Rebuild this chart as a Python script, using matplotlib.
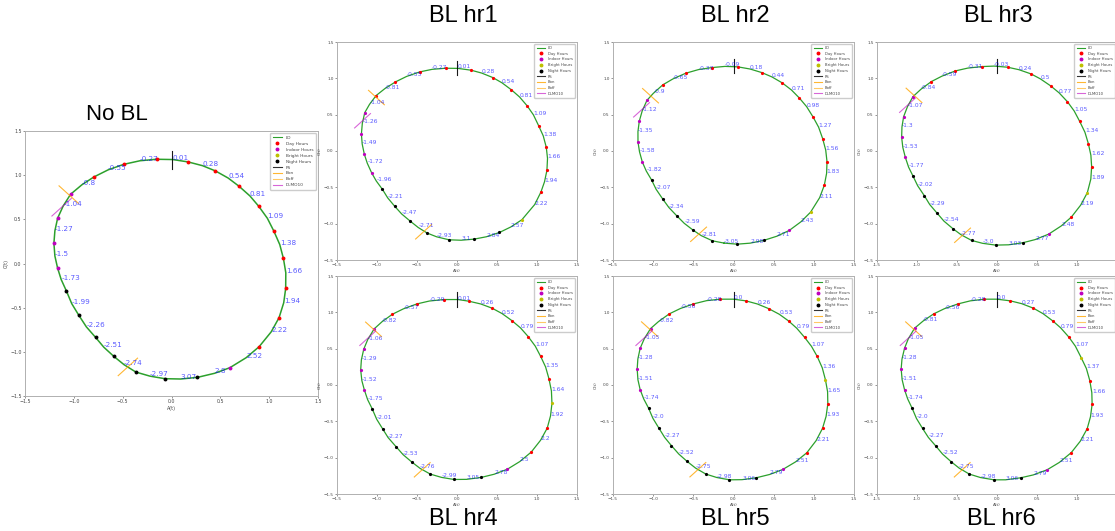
import numpy as np
import matplotlib.pyplot as plt
from matplotlib.lines import Line2D

# hourly samples on the limit cycle: A(t), C(t), starting just left of the top
nobl_A = [-0.153, 0.170, 0.450, 0.692, 0.893, 1.047, 1.146, 1.169, 1.101, 0.897, 0.597, 0.266,
          -0.068, -0.365, -0.590, -0.777, -0.948, -1.077, -1.166, -1.204, -1.166, -1.033, -0.794, -0.488]
nobl_C = [1.180, 1.150, 1.048, 0.874, 0.648, 0.369, 0.057, -0.283, -0.614, -0.942, -1.180, -1.289,
          -1.304, -1.229, -1.052, -0.837, -0.588, -0.309, -0.053, 0.230, 0.513, 0.784, 0.980, 1.123]
nobl_kind = "DDDDDDDDDDINNNNNNNIIIIDD"
nobl_phase = [0.01, 0.28, 0.54, 0.81, 1.09, 1.38, 1.66, 1.94, 2.22, 2.52, 2.8, 3.07,
              -2.97, -2.74, -2.51, -2.26, -1.99, -1.73, -1.5, -1.27, -1.04, -0.8, -0.55, -0.27]
nobl_radius = [1.177, 1.152, 1.128, 1.109, 1.107, 1.129, 1.175, 1.232, 1.281, 1.312, 1.319, 1.311,
               1.294, 1.244, 1.174, 1.129, 1.118, 1.144, 1.197, 1.250, 1.286, 1.279, 1.243, 1.207]
nobl_marks = {"PS": (0.0, 1.175), "Bon": (-0.933, 1.310), "Boff": (-2.777, 1.253), "DLMO10": (-1.056, 1.293)}

hr1_A = [-0.142, 0.176, 0.447, 0.681, 0.878, 1.020, 1.116, 1.124, 1.049, 0.811, 0.531, 0.213,
         -0.100, -0.372, -0.585, -0.777, -0.932, -1.066, -1.158, -1.195, -1.153, -1.011, -0.769, -0.464]
hr1_C = [1.139, 1.112, 1.011, 0.841, 0.620, 0.349, 0.051, -0.266, -0.565, -0.946, -1.121, -1.213,
         -1.222, -1.130, -0.965, -0.763, -0.528, -0.303, -0.046, 0.234, 0.528, 0.763, 0.951, 1.089]
hr1_kind = "DDDDDDDDDBNNNNNNNIIIIDDD"
hr1_phase = [0.01, 0.28, 0.54, 0.81, 1.09, 1.38, 1.66, 1.94, 2.22, 2.57, 2.84, 3.1,
             -2.93, -2.71, -2.47, -2.21, -1.96, -1.72, -1.49, -1.26, -1.04, -0.81, -0.55, -0.27]
hr1_radius = [1.137, 1.116, 1.094, 1.079, 1.077, 1.098, 1.136, 1.173, 1.219, 1.243, 1.236, 1.229,
              1.208, 1.159, 1.109, 1.080, 1.090, 1.134, 1.189, 1.243, 1.268, 1.245, 1.204, 1.166]
hr1_marks = {"PS": (0.0, 1.139), "Bon": (-0.940, 1.247), "Boff": (-2.782, 1.188), "DLMO10": (-1.232, 1.252)}

hr2_A = [-0.270, 0.054, 0.353, 0.607, 0.819, 0.990, 1.110, 1.164, 1.131, 0.960, 0.694, 0.374,
         0.046, -0.262, -0.503, -0.707, -0.881, -1.019, -1.135, -1.189, -1.173, -1.077, -0.881, -0.595]
hr2_C = [1.148, 1.158, 1.079, 0.937, 0.730, 0.469, 0.170, -0.147, -0.469, -0.841, -1.093, -1.231,
         -1.282, -1.236, -1.089, -0.891, -0.661, -0.400, -0.152, 0.124, 0.409, 0.698, 0.910, 1.070]
hr2_kind = "DDDDDDDDDBINNNNNNNIIIIDD"
hr2_phase = [-0.09, 0.18, 0.44, 0.71, 0.98, 1.27, 1.56, 1.83, 2.11, 2.43, 2.71, 2.98,
             -3.05, -2.81, -2.59, -2.34, -2.07, -1.82, -1.58, -1.35, -1.12, -0.9, -0.65, -0.37]
hr2_radius = [1.169, 1.147, 1.126, 1.107, 1.096, 1.109, 1.148, 1.199, 1.250, 1.286, 1.291, 1.285,
              1.273, 1.232, 1.169, 1.119, 1.098, 1.120, 1.170, 1.219, 1.263, 1.275, 1.246, 1.202]
hr2_marks = {"PS": (0.0, 1.167), "Bon": (-0.936, 1.283), "Boff": (-2.779, 1.226), "DLMO10": (-1.111, 1.277)}

hr3_A = [-0.188, 0.133, 0.425, 0.671, 0.879, 1.033, 1.142, 1.183, 1.129, 0.929, 0.646, 0.321,
         -0.017, -0.317, -0.550, -0.746, -0.908, -1.050, -1.146, -1.192, -1.167, -1.050, -0.821, -0.521]
hr3_C = [1.162, 1.153, 1.061, 0.896, 0.680, 0.409, 0.101, -0.216, -0.574, -0.910, -1.144, -1.263,
         -1.295, -1.231, -1.070, -0.859, -0.616, -0.345, -0.087, 0.188, 0.473, 0.749, 0.955, 1.102]
hr3_kind = "DDDDDDDDBDINNNNNNNIIIIDD"
hr3_phase = [-0.03, 0.24, 0.5, 0.77, 1.05, 1.34, 1.62, 1.89, 2.19, 2.48, 2.77, 3.03,
             -3.0, -2.77, -2.54, -2.29, -2.02, -1.77, -1.53, -1.3, -1.07, -0.84, -0.59, -0.31]
hr3_radius = [1.169, 1.152, 1.131, 1.115, 1.111, 1.129, 1.175, 1.235, 1.284, 1.307, 1.309, 1.299,
              1.283, 1.237, 1.171, 1.118, 1.101, 1.127, 1.178, 1.233, 1.275, 1.275, 1.239, 1.198]
hr3_marks = {"PS": (0.0, 1.169), "Bon": (-0.935, 1.289), "Boff": (-2.786, 1.237), "DLMO10": (-1.058, 1.284)}

hr4_A = [-0.167, 0.150, 0.439, 0.685, 0.890, 1.045, 1.149, 1.187, 1.128, 0.928, 0.631, 0.301,
         -0.038, -0.334, -0.564, -0.761, -0.928, -1.061, -1.158, -1.204, -1.166, -1.036, -0.807, -0.501]
hr4_C = [1.176, 1.153, 1.057, 0.887, 0.666, 0.395, 0.087, -0.253, -0.593, -0.923, -1.158, -1.272,
         -1.300, -1.226, -1.061, -0.850, -0.606, -0.326, -0.069, 0.207, 0.492, 0.772, 0.974, 1.116]
hr4_kind = "DDDDDDDBDDINNNNNNNIIIIDD"
hr4_phase = [0.01, 0.26, 0.52, 0.79, 1.07, 1.35, 1.64, 1.92, 2.2, 2.5, 2.78, 3.05,
             -2.99, -2.76, -2.53, -2.27, -2.01, -1.75, -1.52, -1.29, -1.06, -0.82, -0.57, -0.29]
hr4_radius = [1.176, 1.154, 1.133, 1.117, 1.115, 1.135, 1.183, 1.244, 1.292, 1.314, 1.313, 1.304,
              1.286, 1.237, 1.172, 1.125, 1.109, 1.135, 1.191, 1.244, 1.279, 1.279, 1.244, 1.206]
hr4_marks = {"PS": (0.0, 1.178), "Bon": (-0.937, 1.295), "Boff": (-2.785, 1.245), "DLMO10": (-1.048, 1.288)}

hr5_A = [-0.166, 0.154, 0.436, 0.685, 0.884, 1.041, 1.145, 1.174, 1.108, 0.913, 0.614, 0.282,
         -0.050, -0.344, -0.577, -0.772, -0.929, -1.058, -1.162, -1.199, -1.162, -1.033, -0.801, -0.498]
hr5_C = [1.181, 1.158, 1.052, 0.882, 0.657, 0.395, 0.069, -0.262, -0.597, -0.932, -1.162, -1.277,
         -1.305, -1.226, -1.052, -0.836, -0.593, -0.317, -0.064, 0.220, 0.505, 0.776, 0.978, 1.116]
hr5_kind = "DDDDDDBDDDINNNNNNNIIIIDD"
hr5_phase = [0.0, 0.26, 0.53, 0.79, 1.07, 1.36, 1.65, 1.93, 2.21, 2.51, 2.79, 3.06,
             -2.98, -2.75, -2.52, -2.27, -2.0, -1.74, -1.51, -1.28, -1.05, -0.82, -0.56, -0.28]
hr5_radius = [1.181, 1.154, 1.128, 1.109, 1.107, 1.130, 1.175, 1.231, 1.282, 1.310, 1.311, 1.307,
              1.290, 1.237, 1.169, 1.120, 1.103, 1.134, 1.192, 1.243, 1.280, 1.278, 1.243, 1.208]
hr5_marks = {"PS": (0.0, 1.178), "Bon": (-0.936, 1.299), "Boff": (-2.778, 1.247), "DLMO10": (-1.048, 1.288)}

hr6_A = [-0.159, 0.167, 0.455, 0.697, 0.897, 1.052, 1.160, 1.189, 1.127, 0.927, 0.626, 0.296,
         -0.038, -0.346, -0.572, -0.764, -0.931, -1.060, -1.156, -1.198, -1.156, -1.031, -0.793, -0.488]
hr6_C = [1.181, 1.158, 1.057, 0.882, 0.661, 0.377, 0.060, -0.266, -0.602, -0.932, -1.167, -1.277,
         -1.305, -1.226, -1.057, -0.841, -0.597, -0.322, -0.064, 0.220, 0.505, 0.781, 0.978, 1.116]
hr6_kind = "DDDDDBDDDDINNNNNNNIIIIDD"
hr6_phase = [0.0, 0.27, 0.53, 0.79, 1.07, 1.37, 1.66, 1.93, 2.21, 2.51, 2.79, 3.06,
             -2.98, -2.75, -2.52, -2.27, -2.0, -1.74, -1.51, -1.28, -1.05, -0.81, -0.56, -0.28]
hr6_radius = [1.181, 1.161, 1.138, 1.119, 1.116, 1.140, 1.190, 1.248, 1.297, 1.320, 1.318, 1.309,
              1.290, 1.238, 1.169, 1.121, 1.107, 1.133, 1.188, 1.240, 1.278, 1.276, 1.239, 1.205]
hr6_marks = {"PS": (0.0, 1.178), "Bon": (-0.935, 1.296), "Boff": (-2.785, 1.245), "DLMO10": (-1.046, 1.283)}

KIND_COLOR = {"D": "red", "I": "m", "B": "y", "N": "k"}
MARK_STYLE = {"PS": ("k", 90, 0.10), "Bon": ("orange", -45, 0.14),
              "Boff": ("orange", 45, 0.14), "DLMO10": ("m", 45, 0.14)}


def draw_cycle(ax, A, C, kind, phase, radius, marks, small=True, cut_right=False):
    A = np.asarray(A); C = np.asarray(C)
    ph = np.asarray(phase); rad = np.asarray(radius)
    lx = rad * np.sin(ph)
    ly = rad * np.cos(ph)

    # LD curve through hourly samples and phase tags, ordered round the cycle
    px = np.concatenate([A, lx]); py = np.concatenate([C, ly])
    order = np.argsort(np.arctan2(px, py))
    px = np.append(px[order], px[order][0]); py = np.append(py[order], py[order][0])
    lw = 0.9 if small else 1.1
    ax.plot(px, py, color="tab:green", lw=lw, zorder=2)

    ms = 2.3 if small else 2.8
    for k in "DIBN":
        sel = np.array([c == k for c in kind])
        if sel.any():
            ax.plot(A[sel], C[sel], "o", color=KIND_COLOR[k], ms=ms, mec="none", zorder=3)

    for name, (p, r) in marks.items():
        col, ang, half = MARK_STYLE[name]
        cx, cy = r * np.sin(p), r * np.cos(p)
        dx, dy = half * np.cos(np.radians(ang)), half * np.sin(np.radians(ang))
        alpha = 0.6 if name == "DLMO10" else (0.8 if col == "orange" else 0.9)
        ax.plot([cx - dx, cx + dx], [cy - dy, cy + dy], color=col, lw=0.8, alpha=alpha, zorder=4)

    fs = 4.3 if small else 5.2
    for p, x, y in zip(ph, lx, ly):
        ax.text(x, y, str(p), color="blue", alpha=0.65, fontsize=fs, zorder=5)

    ax.set_xlim(-1.5, 1.5)
    ax.set_ylim(-1.5, 1.5)
    ticks = np.arange(-1.5, 1.51, 0.5)
    ax.set_xticks(ticks)
    ax.set_yticks(ticks)
    if cut_right:
        # rightmost column runs off the sheet, so its last x label is not shown
        ax.set_xticklabels([f"{t:.1f}" for t in ticks[:-1]] + [""])
    tfs = 3.0 if small else 3.4
    ax.tick_params(labelsize=tfs, length=1.5, width=0.4, pad=1, colors="#444444")
    for s in ax.spines.values():
        s.set_color("#b0b0b0")
        s.set_linewidth(0.7)
    ax.set_xlabel("A(t)", fontsize=tfs, labelpad=1, color="#444444")
    ax.set_ylabel("C(t)", fontsize=tfs, labelpad=1, color="#444444")

    handles = [Line2D([], [], color="tab:green", lw=0.8, label="LD"),
               Line2D([], [], ls="", marker="o", color="red", ms=1.8, label="Day Hours"),
               Line2D([], [], ls="", marker="o", color="m", ms=1.8, label="Indoor Hours"),
               Line2D([], [], ls="", marker="o", color="y", ms=1.8, label="Bright Hours"),
               Line2D([], [], ls="", marker="o", color="k", ms=1.8, label="Night Hours"),
               Line2D([], [], color="k", lw=0.8, alpha=0.8, label="PS"),
               Line2D([], [], color="orange", lw=0.8, alpha=0.8, label="Bon"),
               Line2D([], [], color="orange", lw=0.8, alpha=0.6, label="Boff"),
               Line2D([], [], color="m", lw=0.8, alpha=0.6, label="DLMO10")]
    leg = ax.legend(handles=handles, loc="upper right", fontsize=2.7 if small else 3.1,
                    borderpad=0.6, labelspacing=0.45, handlelength=2.2, framealpha=1,
                    edgecolor="#cccccc", fancybox=True)
    for t in leg.get_texts():
        t.set_color("#444444")


fig = plt.figure(figsize=(11.15, 5.31), dpi=100)
W, H = 1115.0, 531.0


def add_panel(x0, y0, x1, y1):
    return fig.add_axes([x0 / W, 1 - y1 / H, (x1 - x0) / W, (y1 - y0) / H])


ax = add_panel(25, 131, 318, 396)
draw_cycle(ax, nobl_A, nobl_C, nobl_kind, nobl_phase, nobl_radius, nobl_marks, small=False)

panels = [
    ((337, 42, 577, 260), hr1_A, hr1_C, hr1_kind, hr1_phase, hr1_radius, hr1_marks, False),
    ((613, 42, 854, 260), hr2_A, hr2_C, hr2_kind, hr2_phase, hr2_radius, hr2_marks, False),
    ((877, 42, 1117, 260), hr3_A, hr3_C, hr3_kind, hr3_phase, hr3_radius, hr3_marks, True),
    ((337, 276, 577, 494), hr4_A, hr4_C, hr4_kind, hr4_phase, hr4_radius, hr4_marks, False),
    ((613, 276, 854, 494), hr5_A, hr5_C, hr5_kind, hr5_phase, hr5_radius, hr5_marks, False),
    ((877, 276, 1117, 494), hr6_A, hr6_C, hr6_kind, hr6_phase, hr6_radius, hr6_marks, True),
]
for box, A, C, kind, phase, radius, marks, cut in panels:
    ax = add_panel(*box)
    draw_cycle(ax, A, C, kind, phase, radius, marks, cut_right=cut)

# panel captions
narrow = ["Liberation Sans Narrow", "Liberation Sans", "DejaVu Sans"]
fig.text(117 / W, 1 - 115 / H, "No BL", fontsize=16, ha="center", va="center",
         family=["Liberation Sans", "DejaVu Sans"])
for label, x, y in [("BL hr1", 463, 16), ("BL hr2", 735, 16), ("BL hr3", 998, 16),
                    ("BL hr4", 463, 519), ("BL hr5", 735, 519), ("BL hr6", 1001, 519)]:
    fig.text(x / W, 1 - y / H, label, fontsize=17, ha="center", va="center", family=narrow)

fig.savefig("out.png", dpi=100)
